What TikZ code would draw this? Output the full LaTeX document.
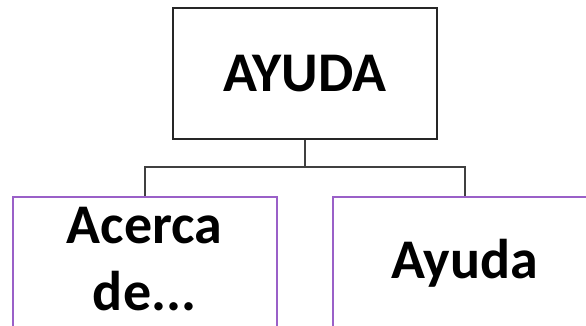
\documentclass[tikz,border=0pt]{standalone}
\usepackage{fontspec}
\setmainfont{Carlito}
\usepackage{tikz}
\usetikzlibrary{positioning}
\definecolor{MenuPurple}{HTML}{9A60C8}
\definecolor{LinkGray}{HTML}{404040}

\begin{document}
\begin{tikzpicture}[
  x=1pt, y=1pt,
  menu/.style={
    minimum width=264pt,
    minimum height=131pt,
    inner sep=0pt,
    align=center,
    line width=2pt,
    font=\fontsize{56}{62}\selectfont\bfseries
  },
  root/.style={menu,draw=black!85,fill=white},
  item/.style={menu,draw=MenuPurple,fill=white},
  link/.style={draw=LinkGray,line width=2pt}
]
\useasboundingbox (0,0) rectangle (586,326);

\node[root] (ayuda) at (304.75,252) {AYUDA};
\node[item,text depth=9pt] (acerca) at (144.5,63) {Acerca\\[5pt]de...};
\node[item] (ayudaitem) at (464.5,63) {Ayuda};

\coordinate (split) at (ayuda.south |- 0,159);

\draw[link] (ayuda.south) -- (split) -| (acerca.north);
\draw[link] (split) -| (ayudaitem.north);
\end{tikzpicture}
\end{document}
